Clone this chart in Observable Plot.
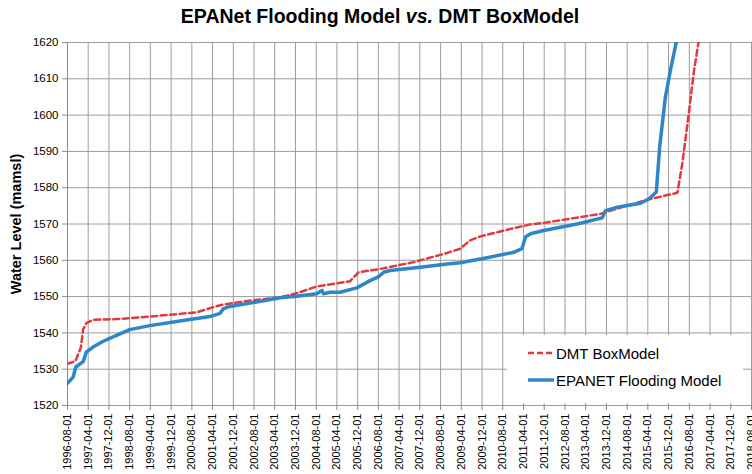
<!DOCTYPE html>
<html>
<head>
<meta charset="utf-8">
<script src="https://cdn.jsdelivr.net/npm/d3@7"></script>
<script src="https://cdn.jsdelivr.net/npm/@observablehq/plot@0.6"></script>
<style>
  html, body { margin: 0; padding: 0; background: #fff; }
  #wrap { position: relative; width: 752px; height: 474px; font-family: "Liberation Sans", Arial, sans-serif; }
  #title { height: 30px; line-height: 32px; text-align: center; font-weight: bold; font-size: 19.5px; color: #000; padding-left: 8px; box-sizing: border-box; }
  #legend { position: absolute; left: 507px; top: 335px; width: 236px; height: 68px; background: #fff; font-size: 15px; color: #000; }
  .item { position: absolute; left: 21px; height: 20px; display: flex; align-items: center; }
  .item svg { margin-right: 2px; }
</style>
</head>
<body>
<div id="wrap">
  <div id="title">EPANet Flooding Model <i>vs.</i> DMT BoxModel</div>
  <div id="chart"></div>
  <div id="legend">
    <div class="item" style="top:8px"><svg width="26" height="6"><line x1="0" y1="3" x2="26" y2="3" stroke="#e0393e" stroke-width="2.5" stroke-dasharray="6,3"/></svg>DMT BoxModel</div>
    <div class="item" style="top:35px"><svg width="26" height="6"><line x1="0" y1="3" x2="26" y2="3" stroke="#2e86c8" stroke-width="3.5"/></svg>EPANET Flooding Model</div>
  </div>
</div>
<script>
// DMT BoxModel (red dashed)
const dmtDates = ["1996-08-01","1996-11-01","1997-01-05","1997-02-01","1997-03-10","1997-06-01","1998-03-01","1999-03-25","2000-07-10","2000-10-01","2001-04-10","2001-08-01","2002-06-15","2003-06-01","2003-12-15","2004-08-07","2005-09-01","2005-12-10","2006-08-20","2007-09-20","2008-10-15","2009-03-18","2009-07-15","2009-11-10","2010-09-20","2011-06-22","2011-11-25","2013-09-20","2015-03-25","2016-03-13","2016-05-10","2016-07-25","2016-09-25","2016-11-15","2017-01-15"];
const dmtLevels = [1531.5,1532.2,1536.0,1541.0,1542.7,1543.6,1543.8,1544.5,1545.5,1545.7,1547.1,1547.8,1548.9,1549.8,1550.9,1552.8,1554.2,1556.7,1557.6,1559.5,1562.0,1563.2,1565.5,1566.6,1568.4,1569.9,1570.3,1572.8,1576.7,1578.6,1586.6,1600.4,1612.3,1619.8,1626];

// EPANET Flooding Model (blue solid)
const epaDates = ["1996-08-01","1996-10-06","1996-11-06","1997-02-01","1997-03-10","1997-05-28","1997-09-25","1998-02-28","1998-08-01","1999-03-25","2000-04-20","2001-03-01","2001-06-28","2001-08-03","2001-10-20","2002-06-15","2003-06-01","2003-12-15","2004-08-07","2004-10-07","2004-10-25","2005-01-12","2005-05-07","2005-11-20","2006-04-25","2006-07-13","2006-08-20","2006-10-01","2006-12-18","2007-12-07","2008-10-15","2009-03-18","2010-01-28","2010-12-07","2011-03-15","2011-04-25","2011-06-22","2011-11-25","2012-12-22","2013-10-12","2013-11-22","2014-04-06","2015-01-06","2015-04-12","2015-07-10","2015-08-18","2015-10-24","2015-12-22","2016-02-27","2016-04-10"];
const epaLevels = [1526.1,1527.8,1530.6,1532.1,1534.7,1536.1,1537.7,1539.3,1540.9,1542.0,1543.4,1544.5,1545.4,1546.6,1547.3,1548.2,1549.7,1550.1,1550.8,1551.7,1550.8,1551.2,1551.2,1552.4,1554.4,1555.2,1555.8,1556.7,1557.2,1558.1,1559.0,1559.3,1560.7,1562.2,1563.2,1566.4,1567.3,1568.2,1570.0,1571.7,1573.7,1574.6,1575.7,1576.9,1578.8,1591.2,1604.9,1612.3,1619.8,1626];

// Axis ticks
const xTickLabels = ["1996-08-01","1997-04-01","1997-12-01","1998-08-01","1999-04-01","1999-12-01","2000-08-01","2001-04-01","2001-12-01","2002-08-01","2003-04-01","2003-12-01","2004-08-01","2005-04-01","2005-12-01","2006-08-01","2007-04-01","2007-12-01","2008-08-01","2009-04-01","2009-12-01","2010-08-01","2011-04-01","2011-12-01","2012-08-01","2013-04-01","2013-12-01","2014-08-01","2015-04-01","2015-12-01","2016-08-01","2017-04-01","2017-12-01","2018-08-01"];
const yTicks = [1520,1530,1540,1550,1560,1570,1580,1590,1600,1610,1620];

const parse = d3.utcParse("%Y-%m-%d");
const dmt = dmtDates.map((d, i) => ({date: parse(d), level: dmtLevels[i]}));
const epa = epaDates.map((d, i) => ({date: parse(d), level: epaLevels[i]}));
const xTicks = xTickLabels.map(parse);

const chart = Plot.plot({
  width: 752,
  height: 444,
  marginTop: 12,
  marginLeft: 67,
  marginRight: 1,
  marginBottom: 69,
  style: {fontFamily: "Liberation Sans, Arial, sans-serif", fontSize: "11px", color: "#000", background: "#fff"},
  x: {type: "utc", domain: [xTicks[0], xTicks[xTicks.length - 1]]},
  y: {domain: [1520, 1620]},
  marks: [
    Plot.ruleX(xTicks, {stroke: "#9c9c9c", strokeWidth: 1}),
    Plot.ruleY(yTicks, {stroke: "#9c9c9c", strokeWidth: 1}),
    Plot.axisX({ticks: xTicks, tickFormat: d3.utcFormat("%Y-%m-%d"), tickRotate: -90, tickSize: 5, tickPadding: 3, stroke: "#8a8a8a", label: null, fontSize: 11}),
    Plot.axisY({ticks: yTicks, tickFormat: "d", tickSize: 5, tickPadding: 4, stroke: "#8a8a8a", label: null, fontSize: 11.5}),
    Plot.ruleX([xTicks[0]], {stroke: "#8a8a8a"}),
    Plot.line(dmt, {x: "date", y: "level", stroke: "#e0393e", strokeWidth: 2.5, strokeDasharray: "6,3.5", clip: true}),
    Plot.line(epa, {x: "date", y: "level", stroke: "#2e86c8", strokeWidth: 3.5, clip: true}),
    Plot.text(["Water Level (mamsl)"], {frameAnchor: "left", textAnchor: "middle", rotate: -90, dx: -51, fontWeight: "bold", fontSize: 14.5, fill: "#000"})
  ]
});
document.getElementById("chart").appendChild(chart);
</script>
</body>
</html>
